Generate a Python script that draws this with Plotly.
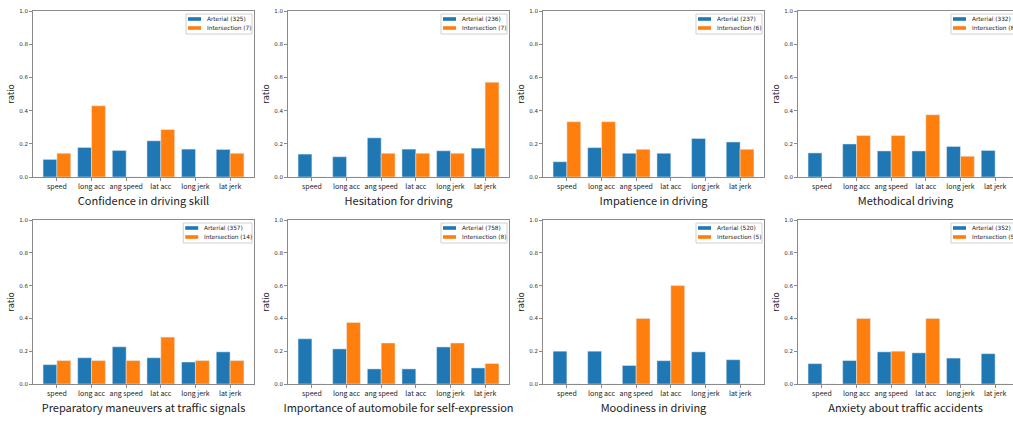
import plotly.graph_objects as go

# ---------------- data ----------------
categories = ["speed", "long acc", "ang speed", "lat acc", "long jerk", "lat jerk"]
titles = [
    "Confidence in driving skill",
    "Hesitation for driving",
    "Impatience in driving",
    "Methodical driving",
    "Preparatory maneuvers at traffic signals",
    "Importance of automobile for self-expression",
    "Moodiness in driving",
    "Anxiety about traffic accidents",
]
arterial_n = [325, 236, 237, 332, 357, 758, 520, 352]
intersection_n = [7, 7, 6, 8, 14, 8, 5, 5]

arterial = [
    [0.106, 0.178, 0.160, 0.218, 0.168, 0.166],
    [0.138, 0.122, 0.236, 0.168, 0.158, 0.174],
    [0.092, 0.177, 0.143, 0.143, 0.232, 0.211],
    [0.145, 0.199, 0.157, 0.157, 0.184, 0.160],
    [0.118, 0.160, 0.227, 0.160, 0.134, 0.196],
    [0.276, 0.214, 0.092, 0.092, 0.226, 0.098],
    [0.200, 0.200, 0.113, 0.142, 0.196, 0.148],
    [0.124, 0.143, 0.196, 0.190, 0.158, 0.185],
]
intersection = [
    [0.143, 0.429, 0.0, 0.286, 0.0, 0.143],
    [0.0, 0.0, 0.143, 0.143, 0.143, 0.571],
    [0.333, 0.333, 0.167, 0.0, 0.0, 0.167],
    [0.0, 0.25, 0.25, 0.375, 0.125, 0.0],
    [0.143, 0.143, 0.143, 0.286, 0.143, 0.143],
    [0.0, 0.375, 0.25, 0.0, 0.25, 0.125],
    [0.0, 0.0, 0.4, 0.6, 0.0, 0.0],
    [0.0, 0.4, 0.2, 0.4, 0.0, 0.0],
]
y_ticks = [0.0, 0.2, 0.4, 0.6, 0.8, 1.0]

# ---------------- layout geometry (pixels) ----------------
W, H = 1013, 421
col_left = [33, 288, 543, 798]
panel_w = 221
row_top = [11, 220]
row_bottom = [177, 384]
x_lo, x_hi = -0.69, 5.69
units_per_px = (x_hi - x_lo) / panel_w

BLUE = "#1f77b4"
ORANGE = "#ff7f0e"
SPINE = "#8a8a8a"
TXT = "#222222"


def px(v):
    return v / W


def py(v):
    return 1 - v / H


fig = go.Figure()
shapes = []
annotations = []

for i in range(8):
    r, c = divmod(i, 4)
    ax = "" if i == 0 else str(i + 1)
    left = col_left[c]
    right_full = left + panel_w
    right = min(right_full, W)
    rng_hi = x_lo + (right - left) * units_per_px
    xd = [px(left), px(right)]
    yd = [py(row_bottom[r]), py(row_top[r])]

    fig.add_trace(go.Bar(x=categories, y=arterial[i], marker_color=BLUE,
                         xaxis="x" + ax, yaxis="y" + ax, showlegend=False,
                         offsetgroup="a", name=f"Arterial ({arterial_n[i]})"))
    fig.add_trace(go.Bar(x=categories, y=intersection[i], marker_color=ORANGE,
                         xaxis="x" + ax, yaxis="y" + ax, showlegend=False,
                         offsetgroup="b", name=f"Intersection ({intersection_n[i]})"))

    fig.layout["xaxis" + ax] = dict(
        domain=xd, anchor="y" + ax, range=[x_lo, rng_hi], type="category",
        showline=True, linecolor=SPINE, linewidth=1, mirror=True,
        ticks="outside", ticklen=3, tickcolor=SPINE, showgrid=False,
        tickfont=dict(family="Noto Sans CJK JP", size=7, color=TXT),
        ticklabeloverflow="allow",
        title=dict(text=titles[i], standoff=6,
                   font=dict(family="Noto Sans CJK JP", size=11, color=TXT)),
        fixedrange=True, automargin=False,
    )
    fig.layout["yaxis" + ax] = dict(
        domain=yd, anchor="x" + ax, range=[0, 1], tickvals=y_ticks,
        tickformat=".1f", showline=True, linecolor=SPINE, linewidth=1,
        mirror=True, ticks="outside", ticklen=3, tickcolor=SPINE,
        showgrid=False, zeroline=False, ticklabeloverflow="allow",
        tickfont=dict(family="DejaVu Sans", size=5.5, color="#333333"),
        title=dict(text="ratio", standoff=3,
                   font=dict(family="DejaVu Sans", size=8.5, color=TXT)),
        fixedrange=True, automargin=False,
    )

    # legend box (drawn like matplotlib's legend)
    labels = [f"Arterial ({arterial_n[i]})", f"Intersection ({intersection_n[i]})"]
    text_w = max(len(s) for s in labels) * 2.75
    box_r = right_full - 2
    box_w = 19 + text_w + 3
    box_l = box_r - box_w
    box_t = row_top[r] + 3
    box_b = box_t + 20
    shapes.append(dict(type="rect", xref="paper", yref="paper",
                       x0=px(box_l), x1=px(box_r), y0=py(box_b), y1=py(box_t),
                       line=dict(color="#d0d0d0", width=1),
                       fillcolor="rgba(255,255,255,0.8)", layer="above"))
    for k, (col, yc) in enumerate([(BLUE, box_t + 5), (ORANGE, box_t + 14)]):
        shapes.append(dict(type="rect", xref="paper", yref="paper",
                           x0=px(box_l + 2), x1=px(box_l + 15),
                           y0=py(yc + 1.8), y1=py(yc - 1.8),
                           line=dict(width=0), fillcolor=col, layer="above"))
        annotations.append(dict(text=labels[k], xref="paper", yref="paper",
                                x=px(box_l + 19), y=py(yc), xanchor="left",
                                yanchor="middle", showarrow=False,
                                font=dict(family="DejaVu Sans", size=5.8, color=TXT)))

fig.update_layout(
    width=W, height=H,
    margin=dict(l=0, r=0, t=0, b=0, autoexpand=False),
    paper_bgcolor="white", plot_bgcolor="white",
    barmode="group", bargap=0.2, bargroupgap=0.0,
    shapes=shapes, annotations=annotations,
    showlegend=False, hovermode=False,
)

fig.write_html(
    "out.html",
    config={"displayModeBar": False, "staticPlot": True},
    post_script="document.documentElement.style.margin='0';"
                "document.body.style.margin='0';",
)
